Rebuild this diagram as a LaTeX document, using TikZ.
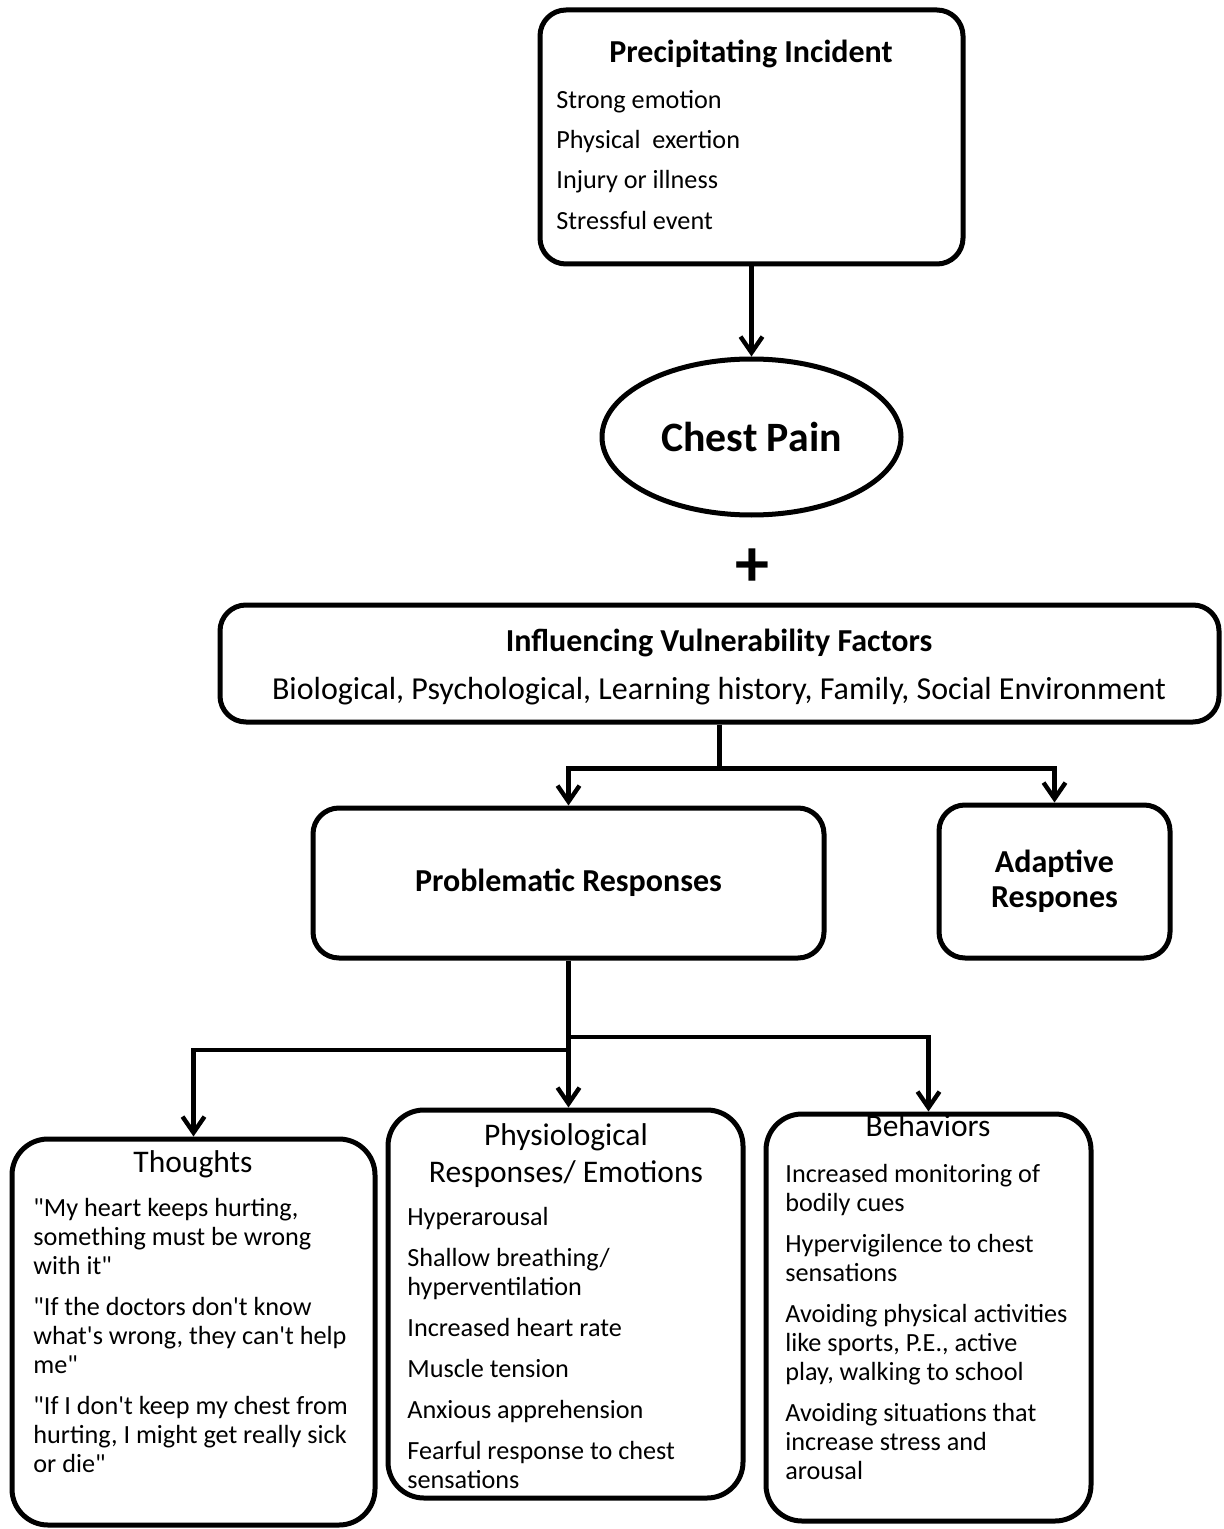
\documentclass[tikz,border=0pt]{standalone}
\usepackage{fontspec}
\setmainfont{Carlito}[Ligatures=TeXOff]
\usetikzlibrary{arrows.meta,shapes.geometric}
\newcommand{\fl}{\rule{0pt}{10pt}}
\begin{document}
\begin{tikzpicture}[x=0.5pt,y=-0.5pt,
  box/.style={draw, line width=2.5pt, rounded corners=13pt, inner sep=0pt, align=center},
  conn/.style={line width=2.2pt},
  arr/.style={conn, -{Straight Barb[length=8pt,width=11pt]}},
  body/.style={anchor=north west, inner sep=0pt, align=left, font=\fontsize{13.1}{14.5}\selectfont},
  ttl/.style={anchor=base, inner sep=0pt, font=\fontsize{15.75}{18.5}\selectfont},
  bttl/.style={anchor=base, inner sep=0pt, font=\fontsize{16}{18.5}\selectfont\bfseries},
]
\useasboundingbox[fill=white] (0,0) rectangle (1224,1529);

% boxes
\node[box, minimum width=211.5pt, minimum height=127pt] (prec) at (751.5,137) {};
\node[draw, ellipse, line width=2.5pt, inner sep=0pt, minimum width=149.5pt, minimum height=78pt,
      font=\fontsize{20.9}{24}\selectfont\bfseries] (chest) at (751.5,437) {Chest Pain};
\node[font=\fontsize{34}{34}\selectfont\bfseries, inner sep=0pt] (plus) at (752,568) {+};
\node[box, minimum width=499.5pt, minimum height=58.5pt] (infl) at (719.5,663.5) {};
\node[box, minimum width=255.5pt, minimum height=75pt, font=\fontsize{16}{17.5}\selectfont\bfseries] (prob) at (568.5,883) {Problematic Responses};
\node[box, minimum width=115.5pt, minimum height=76.5pt, font=\fontsize{16}{17.5}\selectfont\bfseries] (adap) at (1054.5,881.5) {Adaptive\\Respones};
\node[box, rounded corners=18pt, minimum width=181.5pt, minimum height=193pt] (thou) at (193.5,1332) {};
\node[box, rounded corners=18pt, minimum width=177.5pt, minimum height=194pt] (phys) at (565.5,1304) {};
\node[box, rounded corners=18pt, minimum width=162.5pt, minimum height=203.5pt] (beh) at (928.5,1317.5) {};

% titles
\node[bttl] (precT) at (751,63) {Precipitating Incident};
\node[bttl] (inflT) at (719,651) {Influencing Vulnerability Factors};
\node[ttl, font=\fontsize{16}{18.5}\selectfont] (inflS) at (719,699) {Biological, Psychological, Learning history, Family, Social Environment};
\node[ttl] (thouT) at (193,1172) {Thoughts};
\node[ttl] (physT1) at (566,1145) {Physiological};
\node[ttl] (physT2) at (566,1182) {Responses/ Emotions};
\node[ttl] (behT) at (928,1136) {Behaviors};

% body texts
\node[body, font=\fontsize{13.1}{20.15}\selectfont] (precB) at (556,88) {\fl Strong emotion\\Physical\ \ exertion\\Injury or illness\\Stressful event};
\node[body] (thouB) at (33,1196) {\fl"My heart keeps hurting,\\something must be wrong\\with it"\\[6pt]"If the doctors don't know\\what's wrong, they can't help\\me"\\[6pt]"If I don't keep my chest from\\hurting, I might get really sick\\or die"};
\node[body] (physB) at (407,1205) {\fl Hyperarousal\\[6pt]Shallow breathing/\\hyperventilation\\[6pt]Increased heart rate\\[6pt]Muscle tension\\[6pt]Anxious apprehension\\[6pt]Fearful response to chest\\sensations};
\node[body] (behB) at (785,1162) {\fl Increased monitoring of\\bodily cues\\[6pt]Hypervigilence to chest\\sensations\\[6pt]Avoiding physical activities\\like sports, P.E., active\\play, walking to school\\[6pt]Avoiding situations that\\increase stress and\\arousal};

% connectors
\draw[arr] (prec.south) -- (chest.north);
\draw[conn] (infl.south) -- ++(0,44) coordinate (j0);
\draw[arr] (j0) -| (prob.north);
\draw[arr] (j0) -| (adap.north);
\coordinate (j1) at (568.5,1037);
\coordinate (j2) at (568.5,1050);
\draw[arr] (prob.south) -- (prob.south |- phys.north);
\draw[arr] (j1) -| (beh.north);
\draw[arr] (j2) -| (thou.north);
\end{tikzpicture}
\end{document}
